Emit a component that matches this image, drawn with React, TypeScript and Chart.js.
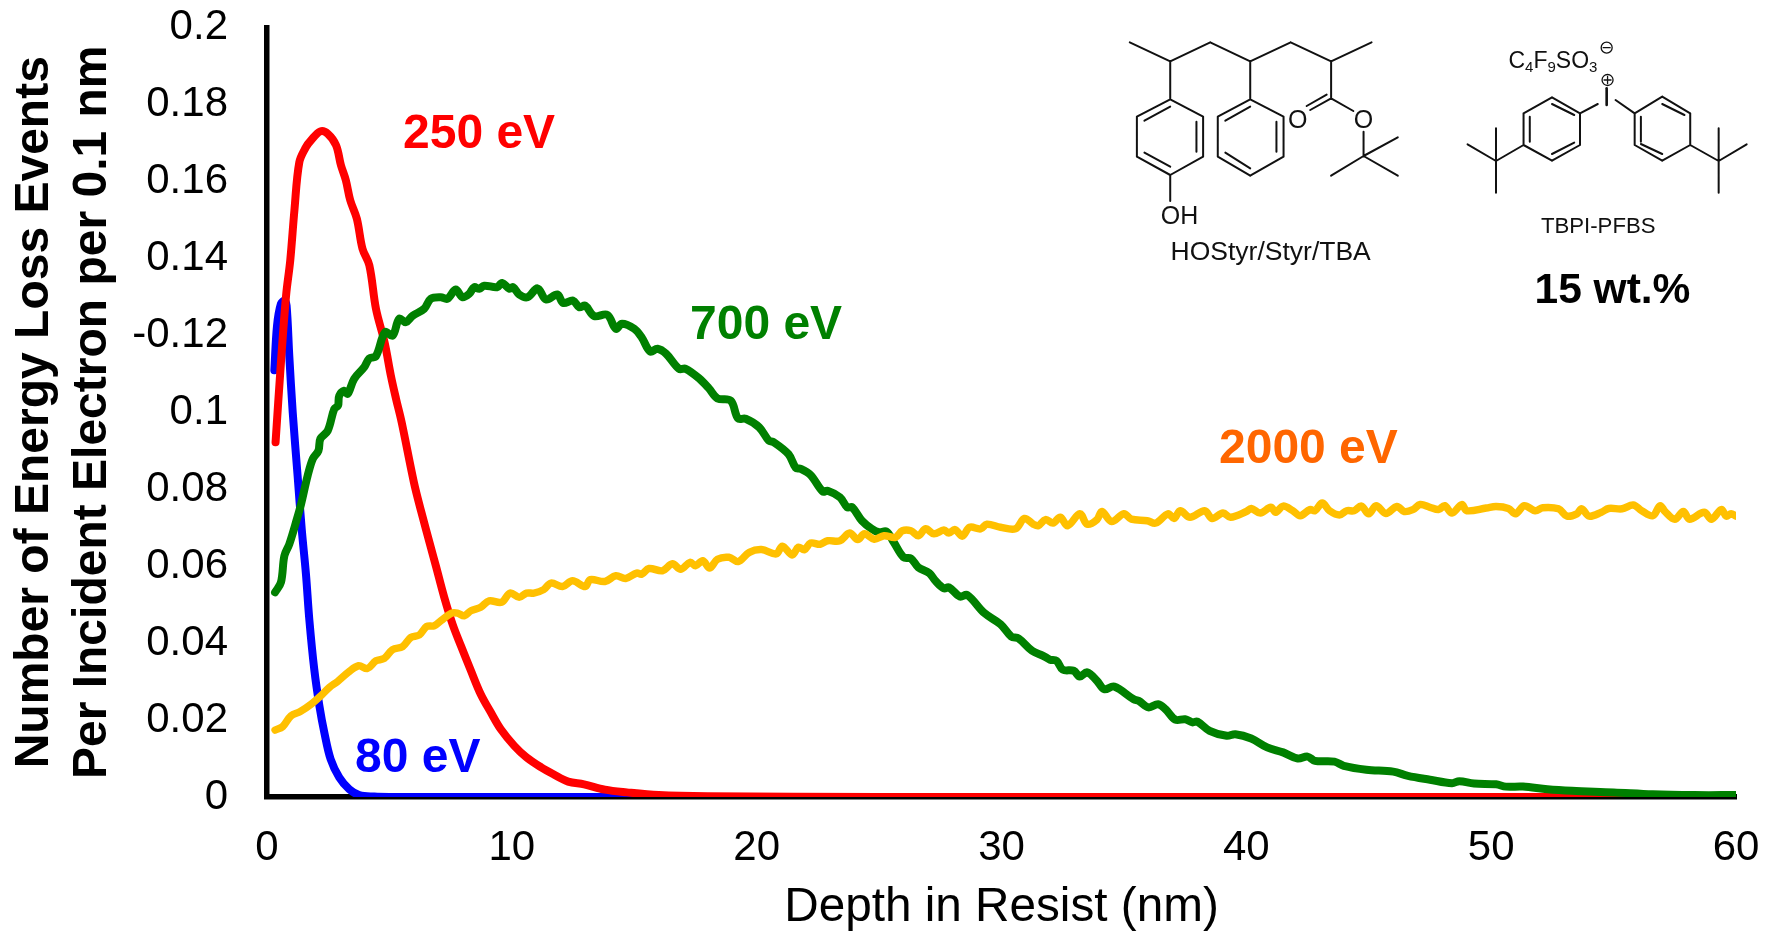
import React, { useEffect, useRef } from "react";
import { Chart, registerables } from "chart.js";

Chart.register(...registerables);

const FONT = '"Liberation Sans", Arial, sans-serif';

const yTickLabels = ["0", "0.02", "0.04", "0.06", "0.08", "0.1", "-0.12", "0.14", "0.16", "0.18", "0.2"];
const xTickLabels = ["0", "10", "20", "30", "40", "50", "60"];
const xTitle = "Depth in Resist (nm)";
const yTitle = ["Number of Energy Loss Events", "Per Incident Electron per 0.1 nm"];

const blueDepth = [0.3, 0.41, 0.57, 0.72, 0.8, 0.91, 1.05, 1.25, 1.42, 1.59, 1.73, 1.93, 2.14, 2.34, 2.6, 2.95, 3.36, 3.77, 4.38, 5, 10, 20, 40, 60];
const blueValue = [0.1109, 0.1225, 0.1282, 0.129, 0.1277, 0.1147, 0.1, 0.0835, 0.0695, 0.058, 0.046, 0.0332, 0.0237, 0.0168, 0.0098, 0.0051, 0.002, 0.0005, 0.0001, 0, 0, 0, 0, 0];

const redDepth = [0.35, 0.57, 0.78, 0.95, 1.12, 1.32, 1.59, 1.8, 2.18, 2.48, 2.82, 3.02, 3.22, 3.4, 3.67, 3.9, 4.18, 4.45, 4.8, 5.06, 5.27, 5.5, 6.0, 6.29, 6.69, 6.9, 7.24, 7.58, 7.92, 8.33, 8.73, 9.14, 9.55, 10.1, 10.6, 11.2, 11.7, 12.3, 12.95, 13.8, 14.7, 16, 18, 25, 40, 60];
const redValue = [0.0922, 0.113, 0.1304, 0.1395, 0.1525, 0.165, 0.1689, 0.1707, 0.173, 0.1724, 0.1694, 0.1642, 0.1603, 0.1551, 0.1503, 0.1425, 0.1382, 0.1269, 0.1182, 0.1095, 0.1035, 0.0974, 0.0818, 0.0744, 0.0649, 0.06, 0.0519, 0.0449, 0.0393, 0.0328, 0.0267, 0.022, 0.0176, 0.0133, 0.0103, 0.0077, 0.0059, 0.004, 0.0033, 0.0019, 0.0012, 0.0005, 0.0002, 0, 0, 0];

const greenDepth = [0.33, 0.57, 0.71, 0.91, 1.22, 1.39, 1.66, 1.87, 2.1, 2.18, 2.48, 2.75, 2.9, 2.95, 3.16, 3.3, 3.56, 3.97, 4.18, 4.45, 4.82, 5.13, 5.4, 5.67, 5.95, 6.42, 6.69, 7.1, 7.37, 7.71, 7.98, 8.26, 8.46, 8.67, 8.87, 9.4, 9.6, 9.9, 10.05, 10.3, 10.64, 11.05, 11.4, 11.86, 12.1, 12.5, 12.75, 13.0, 13.36, 13.9, 14.25, 14.5, 15, 15.3, 15.65, 15.95, 16.3, 16.83, 17.1, 17.65, 18.05, 18.4, 18.94, 19.24, 19.55, 20.1, 20.5, 20.7, 21.3, 21.6, 21.8, 22.2, 22.7, 22.9, 23.4, 23.7, 23.9, 24.3, 24.7, 25, 25.3, 25.6, 26, 26.3, 26.6, 27.05, 27.3, 27.65, 27.85, 28.3, 28.6, 29.3, 29.96, 30.4, 30.7, 31.25, 31.7, 31.98, 32.25, 32.5, 32.95, 33.2, 33.5, 33.9, 34.2, 34.6, 35.4, 35.6, 36, 36.4, 36.7, 37.1, 37.5, 37.8, 38, 38.5, 39.2, 39.55, 40.2, 40.85, 41.5, 42.1, 42.5, 42.8, 43.6, 43.98, 44.9, 46, 46.6, 47.5, 48.4, 48.7, 49.3, 50.2, 50.6, 51.3, 52.3, 53.3, 55, 56.6, 58.3, 60];
const greenValue = [0.0532, 0.0558, 0.0627, 0.0657, 0.0722, 0.0761, 0.0835, 0.0879, 0.09, 0.0931, 0.0952, 0.1009, 0.1017, 0.1043, 0.1056, 0.1048, 0.1087, 0.1117, 0.114, 0.1146, 0.1208, 0.1199, 0.1243, 0.1234, 0.1251, 0.1269, 0.1295, 0.1299, 0.1295, 0.1319, 0.1299, 0.1308, 0.1325, 0.1321, 0.1329, 0.1325, 0.1336, 0.1321, 0.1325, 0.1306, 0.1299, 0.1322, 0.1293, 0.1306, 0.1284, 0.129, 0.1273, 0.1277, 0.125, 0.1253, 0.1217, 0.123, 0.1217, 0.1195, 0.1158, 0.1165, 0.1152, 0.1113, 0.1113, 0.1088, 0.1062, 0.1036, 0.103, 0.0984, 0.0983, 0.0961, 0.0926, 0.0922, 0.0891, 0.0855, 0.0853, 0.0837, 0.0794, 0.0796, 0.0779, 0.0753, 0.0753, 0.0718, 0.0697, 0.0688, 0.069, 0.0662, 0.0623, 0.062, 0.0597, 0.0582, 0.0562, 0.0542, 0.0545, 0.0521, 0.0525, 0.0478, 0.0449, 0.0417, 0.0412, 0.038, 0.0367, 0.0357, 0.0354, 0.0331, 0.0328, 0.0313, 0.0324, 0.0302, 0.028, 0.0287, 0.0254, 0.025, 0.0233, 0.0241, 0.0228, 0.0201, 0.0202, 0.0194, 0.0196, 0.0172, 0.0159, 0.0163, 0.0152, 0.0129, 0.0116, 0.01, 0.0105, 0.0094, 0.0092, 0.0081, 0.0071, 0.0066, 0.0055, 0.0045, 0.0036, 0.0041, 0.0035, 0.0033, 0.0027, 0.0027, 0.002, 0.0016, 0.0012, 0.0007, 0.0005, 0.0005];

const yellowDepth = [0.33, 0.64, 0.98, 1.36, 1.8, 2.2, 2.55, 2.88, 3.32, 3.74, 4.1, 4.45, 4.79, 5.13, 5.54, 5.88, 6.22, 6.52, 6.83, 7.1, 7.54, 7.78, 8.06, 8.33, 8.73, 9.07, 9.58, 9.93, 10.3, 10.6, 10.9, 11.3, 11.6, 12.07, 12.48, 13.0, 13.2, 13.8, 14.25, 14.65, 15.1, 15.3, 15.6, 16.15, 16.56, 16.9, 17.28, 17.5, 17.8, 18.08, 18.4, 18.87, 19.24, 19.7, 20.2, 20.8, 21.05, 21.45, 21.7, 21.95, 22.2, 22.6, 22.9, 23.4, 23.8, 24.13, 24.4, 24.8, 25.2, 25.67, 25.95, 26.3, 26.6, 26.9, 27.24, 27.65, 27.85, 28.1, 28.4, 28.7, 29.15, 29.4, 29.96, 30.57, 30.94, 31.3, 31.5, 31.8, 32.1, 32.4, 32.7, 33.2, 33.5, 33.9, 34.1, 34.5, 35.0, 35.3, 35.95, 36.3, 36.8, 37.05, 37.3, 37.7, 38.3, 38.6, 39.05, 39.35, 40, 40.2, 40.57, 41, 41.2, 41.5, 41.9, 42.2, 42.6, 42.8, 43.1, 43.4, 43.8, 44.1, 44.4, 44.7, 45, 45.3, 45.7, 46.15, 46.45, 46.8, 47.1, 47.5, 47.85, 48.1, 48.4, 48.8, 49.0, 49.8, 50.2, 50.7, 51, 51.35, 51.8, 52.1, 52.75, 53.1, 53.5, 53.7, 54.0, 54.5, 54.8, 55.35, 55.8, 56.15, 56.6, 56.9, 57.1, 57.5, 57.85, 58.1, 58.7, 59, 59.4, 59.6, 59.8, 60];
const yellowValue = [0.0174, 0.0183, 0.0211, 0.0222, 0.0241, 0.0263, 0.0285, 0.03, 0.0324, 0.0341, 0.0334, 0.0354, 0.036, 0.0383, 0.0391, 0.0415, 0.0421, 0.0443, 0.0445, 0.0458, 0.0478, 0.0478, 0.0471, 0.0484, 0.0493, 0.051, 0.0506, 0.053, 0.0519, 0.053, 0.053, 0.0539, 0.0556, 0.0547, 0.0562, 0.0547, 0.0565, 0.056, 0.0575, 0.0568, 0.0582, 0.0579, 0.0594, 0.0588, 0.0606, 0.0592, 0.061, 0.0601, 0.0614, 0.0595, 0.0618, 0.0623, 0.0612, 0.0636, 0.0643, 0.0632, 0.0652, 0.0629, 0.0649, 0.0643, 0.066, 0.0657, 0.0666, 0.0666, 0.0686, 0.0669, 0.0684, 0.067, 0.0679, 0.0675, 0.0692, 0.0692, 0.0679, 0.0697, 0.0684, 0.0694, 0.0686, 0.0695, 0.0678, 0.0701, 0.0697, 0.0709, 0.0701, 0.0697, 0.0724, 0.0709, 0.0705, 0.0721, 0.0712, 0.0727, 0.0705, 0.0736, 0.0709, 0.0721, 0.0742, 0.0716, 0.0736, 0.0722, 0.0718, 0.0712, 0.0736, 0.0724, 0.0744, 0.0727, 0.0744, 0.0724, 0.0738, 0.0727, 0.0742, 0.075, 0.0738, 0.0753, 0.074, 0.0756, 0.0744, 0.0731, 0.0747, 0.0744, 0.0764, 0.0744, 0.0733, 0.0744, 0.0744, 0.0756, 0.0736, 0.0757, 0.0737, 0.0755, 0.0742, 0.0747, 0.076, 0.0753, 0.0747, 0.0757, 0.0738, 0.076, 0.0744, 0.0751, 0.0755, 0.075, 0.0736, 0.0757, 0.0744, 0.0752, 0.0749, 0.073, 0.0736, 0.0749, 0.073, 0.074, 0.075, 0.0749, 0.0759, 0.0744, 0.0731, 0.0757, 0.0742, 0.0722, 0.0742, 0.0722, 0.074, 0.0722, 0.0747, 0.073, 0.0736, 0.073];

const points = (xs: number[], ys: number[]) => xs.map((x, i) => ({ x, y: ys[i] }));

// Curve labels: text, colour, left edge and baseline on the page
const curveLabels = [
  { text: "250 eV", color: "#FF0000", left: 403, base: 148 },
  { text: "700 eV", color: "#008000", left: 690, base: 339 },
  { text: "2000 eV", color: "#FF6600", left: 1219, base: 463 },
  { text: "80 eV", color: "#0000FF", left: 355, base: 772 },
];

// Chemical structures, in crop units of the first zoom
const bonds: number[][] = [
  // polymer backbone and side bonds
  [112,127,203,184],[203,184,293,127],[293,127,383,184],[383,184,474,127],[474,127,565,184],[565,184,656,127],
  [203,184,203,298],[383,184,383,298],[565,184,565,295],
  // hydroxystyrene ring
  [203,298,277,350],[277,350,277,470],[277,470,203,525],[203,525,128,470],[128,470,128,350],[128,350,203,298],
  [145,362,203,320],[262,365,262,455],[145,458,203,500],[203,525,203,603],
  // styrene ring
  [383,298,458,350],[458,350,458,470],[458,470,383,527],[383,527,310,470],[310,470,310,350],[310,350,383,298],
  [327,362,383,320],[442,365,442,455],[327,458,383,505],
  // ester
  [565,295,518,330],[555,284,510,318],[565,295,615,333],[638,395,638,468],
  [638,468,565,527],[638,468,715,412],[638,468,715,527],
  // iodonium
  [1165,312,1125,340],[1205,300,1248,340],
  [1125,340,1062,292],[1062,292,998,340],[998,340,998,435],[998,435,1062,482],[1062,482,1125,435],[1125,435,1125,340],
  [1112,345,1062,312],[1012,350,1012,425],[1062,462,1112,428],
  [998,435,936,483],[936,483,872,433],[936,385,936,578],
  [1248,340,1310,290],[1310,290,1373,340],[1373,340,1373,435],[1373,435,1310,482],[1310,482,1248,435],[1248,435,1248,340],
  [1262,350,1262,425],[1310,312,1360,345],[1262,432,1310,462],
  [1373,435,1437,483],[1437,483,1500,433],[1437,385,1437,578],
];
const px = (zx: number) => 1080 + zx / 2.25;
const py = (zy: number) => zy / 3;

const decorations = {
  id: "decorations",
  afterDatasetsDraw(chart: any) {
    const ctx = chart.ctx;
    ctx.save();
    ctx.textBaseline = "alphabetic";
    ctx.textAlign = "left";
    ctx.font = `bold 48px ${FONT}`;
    for (const l of curveLabels) {
      ctx.fillStyle = l.color;
      ctx.fillText(l.text, l.left, l.base);
    }
    ctx.strokeStyle = "#111";
    ctx.lineWidth = 2;
    ctx.lineCap = "round";
    ctx.beginPath();
    for (const [a, b, c, d] of bonds) {
      ctx.moveTo(px(a), py(b));
      ctx.lineTo(px(c), py(d));
    }
    ctx.stroke();
    // iodine atom as a bar
    ctx.lineWidth = 2.6;
    ctx.beginPath();
    ctx.moveTo(px(1185), py(265));
    ctx.lineTo(px(1185), py(315));
    ctx.stroke();
    // charges
    const charge = (zx: number, zy: number, plus: boolean) => {
      const x = px(zx), y = py(zy);
      ctx.lineWidth = 1.3;
      ctx.beginPath();
      ctx.arc(x, y, 5.5, 0, Math.PI * 2);
      ctx.moveTo(x - 3.5, y);
      ctx.lineTo(x + 3.5, y);
      if (plus) {
        ctx.moveTo(x, y - 3.5);
        ctx.lineTo(x, y + 3.5);
      }
      ctx.stroke();
    };
    charge(1185, 143, false);
    charge(1187, 240, true);
    ctx.fillStyle = "#111";
    ctx.textAlign = "center";
    ctx.font = `25px ${FONT}`;
    ctx.fillText("OH", px(224), py(672));
    ctx.fillText("O", px(490), py(384));
    ctx.fillText("O", px(638), py(384));
    ctx.font = `26.5px ${FONT}`;
    ctx.fillText("HOStyr/Styr/TBA", px(429), 260);
    ctx.font = `22.2px ${FONT}`;
    ctx.fillText("TBPI-PFBS", px(1166), 233);
    ctx.fillStyle = "#000";
    ctx.font = `bold 42.5px ${FONT}`;
    ctx.fillText("15 wt.%", px(1198), 303);
    // C4F9SO3 with subscripts
    ctx.fillStyle = "#111";
    ctx.textAlign = "left";
    let cx = px(964);
    for (const [t, sub] of [["C", 0], ["4", 1], ["F", 0], ["9", 1], ["SO", 0], ["3", 1]] as [string, number][]) {
      ctx.font = `${sub ? 15 : 23}px ${FONT}`;
      ctx.fillText(t, cx, sub ? 72 : 68);
      cx += ctx.measureText(t).width;
    }
    ctx.restore();
  },
};

export default function App() {
  const ref = useRef<HTMLCanvasElement>(null);
  useEffect(() => {
    const line = (label: string, color: string, xs: number[], ys: number[], width: number) => ({
      label,
      data: points(xs, ys),
      borderColor: color,
      backgroundColor: color,
      borderWidth: width,
      pointRadius: 0,
      showLine: true,
      tension: 0.35,
      borderCapStyle: "round" as const,
      borderJoinStyle: "round" as const,
    });
    const chart = new Chart(ref.current!, {
      type: "scatter",
      data: {
        datasets: [
          line("2000 eV", "#FFC000", yellowDepth, yellowValue, 7.5),
          line("700 eV", "#008000", greenDepth, greenValue, 8),
          line("250 eV", "#FF0000", redDepth, redValue, 8),
          line("80 eV", "#0000FF", blueDepth, blueValue, 8),
        ],
      },
      options: {
        animation: false,
        responsive: false,
        layout: { padding: { top: 27.5, right: 39, left: 0, bottom: 0 } },
        plugins: { legend: { display: false }, tooltip: { enabled: false } },
        scales: {
          x: {
            type: "linear",
            min: 0,
            max: 60,
            afterFit: (s: any) => { s.height = 136; s.paddingLeft = 0; s.paddingRight = 0; },
            grid: { display: false, drawTicks: false },
            border: { display: true, color: "#000", width: 5.5 },
            ticks: {
              stepSize: 10,
              padding: 26.5,
              color: "#000",
              maxRotation: 0,
              font: { family: FONT, size: 42 },
              callback: (v: any) => xTickLabels[Math.round(Number(v) / 10)],
            },
            title: {
              display: true,
              text: xTitle,
              color: "#000",
              font: { family: FONT, size: 47.7, lineHeight: 1.05 },
              padding: { top: 0, bottom: 0 },
            },
          },
          y: {
            type: "linear",
            min: 0,
            max: 0.2,
            afterFit: (s: any) => { s.width = 267; s.paddingTop = 0; s.paddingBottom = 0; },
            grid: { display: false, drawTicks: false },
            border: { display: true, color: "#000", width: 5.5 },
            ticks: {
              stepSize: 0.02,
              padding: 39,
              color: "#000",
              font: { family: FONT, size: 42 },
              callback: (v: any) => yTickLabels[Math.round(Number(v) / 0.02)],
            },
            title: {
              display: true,
              text: yTitle,
              color: "#000",
              font: { family: FONT, size: 48, weight: "bold", lineHeight: 1.2 },
              padding: { top: 6, bottom: 0 },
            },
          },
        },
      } as any,
      plugins: [decorations],
    });
    return () => chart.destroy();
  }, []);
  return (
    <div style={{ position: "absolute", left: 0, top: 0, width: 1775, height: 933, background: "#fff" }}>
      <canvas ref={ref} width={1775} height={933} style={{ display: "block" }} />
    </div>
  );
}
